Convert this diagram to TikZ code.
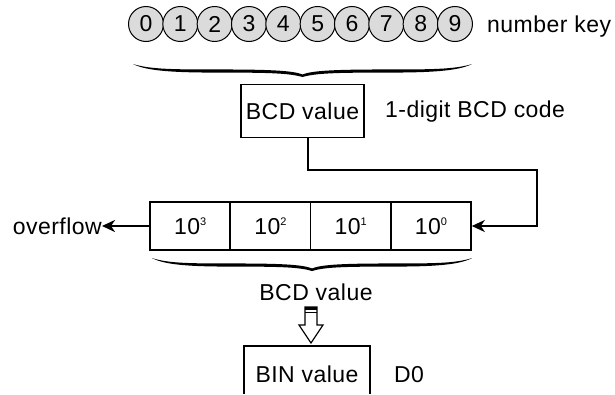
\documentclass[tikz,border=0pt]{standalone}
\usepackage{fontspec}
\setmainfont{Liberation Sans}[LetterSpace=2]
\usetikzlibrary{arrows.meta}
\newcommand\expo[1]{\raisebox{9pt}{\fontsize{11}{11}\selectfont #1}}
\newcommand\calibrace[3]{% center x, top y, half width
  \begin{scope}[shift={(#1,#2)}, x=#3pt, y=-13pt]
    \fill (-1,0) .. controls (-0.9,0.42) and (-0.75,0.42) .. (-0.5,0.42)
      .. controls (-0.2,0.42) and (-0.06,0.5) .. (0,0.8)
      .. controls (0.06,0.5) and (0.2,0.42) .. (0.5,0.42)
      .. controls (0.75,0.42) and (0.9,0.42) .. (1,0)
      .. controls (0.92,0.55) and (0.75,0.66) .. (0.5,0.66)
      .. controls (0.2,0.66) and (0.08,0.7) .. (0,1)
      .. controls (-0.08,0.7) and (-0.2,0.66) .. (-0.5,0.66)
      .. controls (-0.75,0.66) and (-0.92,0.55) .. (-1,0) -- cycle;
  \end{scope}}
\begin{document}
\begin{tikzpicture}[x=1pt,y=-1pt,
  txt/.style={font=\fontsize{23}{26}\selectfont, inner sep=0pt},
  key/.style={circle, draw, line width=1pt, fill=gray!28, minimum size=35pt, inner sep=0pt, font=\fontsize{23}{26}\selectfont},
  box/.style={draw, line width=1.6pt, inner sep=0pt, font=\fontsize{23}{26}\selectfont},
  cell/.style={box, minimum width=80.25pt, minimum height=48pt},
  conn/.style={line width=2.7pt, -{Stealth[length=13pt,width=12pt,inset=4pt]}},
]
\useasboundingbox (0,0) rectangle (615,394);
% number keys
\foreach \i in {0,...,9} \node[key] (c\i) at ({146+34.33*\i},24) {\i};
\node[txt, anchor=base west] (nk) at (487,32) {number key};
\calibrace{302.5}{64}{169.5}
% BCD box
\node[box, minimum width=123pt, minimum height=53pt] (bcd) at (302.5,111) {BCD value};
\node[txt, anchor=base west] (lbl) at (385,117) {1-digit BCD code};
% register
\node[cell] (r3) at (190.125,226) {10\expo{3}};
\node[cell] (r2) at (270.375,226) {10\expo{2}};
\node[cell] (r1) at (350.625,226) {10\expo{1}};
\node[cell] (r0) at (430.875,226) {10\expo{0}};
\coordinate (k0) at (308,170);
\coordinate (k1) at (537,170);
\draw[conn] (k0 |- bcd.south) -- (k0) -- (k1) |- (r0.east);
\node[txt, anchor=base east] (ovf) at (102,234) {overflow};
\draw[conn] (r3.west) -- (ovf.east |- r3.west);
\calibrace{312}{258}{160}
\node[txt, anchor=base] (bv) at (316,300) {BCD value};
% hollow arrow
\draw[line width=1.2pt, line join=miter] (305,325) -- (305,307) -- (317,307) -- (317,325) -- (323,325) -- (311,343) -- (299,325) -- cycle;
\fill (305,307) rectangle (317,309.6);
\draw[line width=1.1pt] (305,312.6) -- (317,312.6);
% BIN box
\draw[line width=1.6pt] (244,394) -- (244,346) -- (370,346) -- (370,394);
\node[txt, anchor=base] (bin) at (307,382) {BIN value};
\node[txt, anchor=base west] (d0) at (394,382) {D0};
\end{tikzpicture}
\end{document}
